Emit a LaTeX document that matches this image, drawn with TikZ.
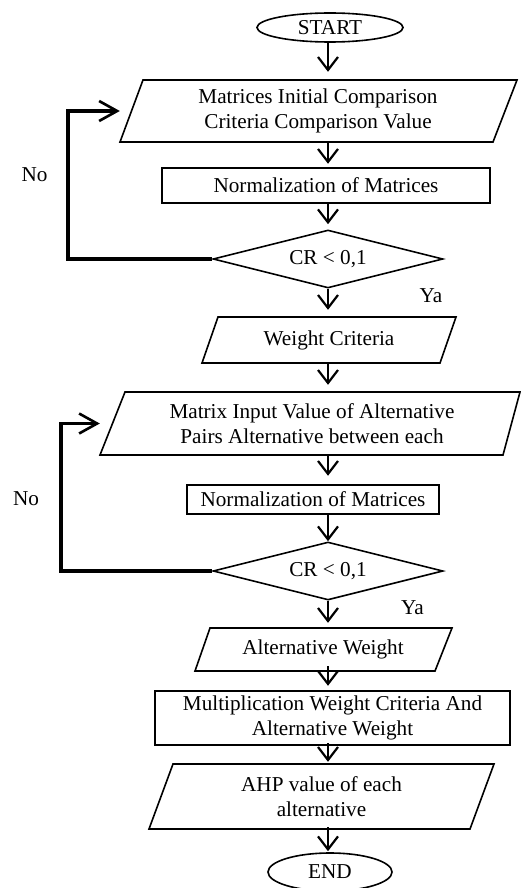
\documentclass[tikz,border=0pt]{standalone}
\usepackage{fontspec}
\setmainfont{Liberation Serif}
\usetikzlibrary{arrows.meta,shapes.geometric}
\begin{document}
\begin{tikzpicture}[x=1pt,y=-1pt,
  font=\fontsize{21.2}{24.5}\selectfont,
  box/.style={draw, line width=2.5pt, inner sep=0pt, align=center},
  thinbox/.style={draw, line width=1.6pt, inner sep=0pt, align=center},
  txt/.style={inner sep=0pt, align=center},
  para/.style={line width=1.6pt, line join=miter},
  dec/.style={draw, line width=1.6pt, diamond, aspect=3.97, inner sep=0pt, minimum width=230pt, minimum height=58pt},
  flow/.style={line width=2.2pt, -{Straight Barb[length=13pt,width=20pt,line width=2.2pt]}},
  loopline/.style={line width=3.5pt, line join=miter, -{Straight Barb[length=18pt,width=20pt,line width=2.6pt]}},
]
\useasboundingbox (0,0) rectangle (521,888);
\coordinate (ax) at (328,0);

% START
\node[thinbox, ellipse, minimum width=146pt, minimum height=29pt] (start) at (330,27.5) {START};

% parallelogram 1
\draw[para] (143,80) -- (517,80) -- (493,142) -- (120,142) -- cycle;
\node[txt, minimum width=374pt, minimum height=62pt] (p1) at (318,111) {Matrices Initial Comparison\\Criteria Comparison Value};

% rect 1
\node[box, minimum width=328pt, minimum height=35pt] (r1) at (326,185.5) {Normalization of Matrices};

% diamond 1
\node[dec] (d1) at (328,259) {CR < 0,1};

% parallelogram 2
\draw[para] (218,317) -- (456,317) -- (440,363) -- (202,363) -- cycle;
\node[txt, minimum width=238pt, minimum height=46pt] (p2) at (329,340) {Weight Criteria};

% parallelogram 3
\draw[para] (125,392) -- (520,392) -- (503,455) -- (100,455) -- cycle;
\node[txt, minimum width=400pt, minimum height=63pt] (p3) at (312,423.5) {Matrix Input Value of Alternative\\Pairs Alternative between each};

% rect 2
\node[box, minimum width=252pt, minimum height=29pt] (r2) at (313,499.5) {Normalization of Matrices};

% diamond 2
\node[dec] (d2) at (328,571) {CR < 0,1};

% parallelogram 4
\draw[para] (210,628) -- (452,628) -- (435,671) -- (195,671) -- cycle;
\node[txt, minimum width=242pt, minimum height=43pt] (p4) at (323,649.5) {Alternative Weight};

% rect 3
\node[box, minimum width=355pt, minimum height=54pt] (r3) at (332.5,718) {Multiplication Weight Criteria And\\Alternative Weight};

% parallelogram 5
\draw[para] (173,764) -- (494,764) -- (470,829) -- (149,829) -- cycle;
\node[txt, minimum width=321pt, minimum height=65pt] (p5) at (321.5,796.5) {AHP value of each\\alternative};

% END
\node[thinbox, ellipse, minimum width=124pt, minimum height=38pt] (end) at (330,872) {END};

% labels
\node[txt] (no1) at (34.5,175) {No};
\node[txt] (ya1) at (431,296) {Ya};
\node[txt] (no2) at (26,499) {No};
\node[txt] (ya2) at (412.5,608) {Ya};

% flow arrows
\draw[flow, shorten >=8pt] (start.south -| ax) -- (p1.north -| ax);
\draw[flow, shorten >=3pt] (p1.south -| ax) -- (r1.north -| ax);
\draw[flow, shorten >=5pt] (r1.south -| ax) -- (d1.north -| ax);
\draw[flow, shorten >=7pt] (d1.south -| ax) -- (p2.north -| ax);
\draw[flow, shorten >=7pt] (p2.south -| ax) -- (p3.north -| ax);
\draw[flow, shorten >=8pt] (p3.south -| ax) -- (r2.north -| ax);
\draw[flow, shorten >=0pt] (r2.south -| ax) -- (d2.north -| ax);
\draw[flow, shorten >=5pt] (d2.south -| ax) -- (p4.north -| ax);
\draw[flow, shorten >=4pt, shorten <=-5pt] (p4.south -| ax) -- (r3.north -| ax);
\draw[flow, shorten >=2pt, shorten <=-3pt] (r3.south -| ax) -- (p5.north -| ax);
\draw[flow, shorten >=1pt, shorten <=-2pt] (p5.south -| ax) -- (end.north -| ax);

% feedback loops
\draw[loopline, shorten >=11pt] (d1.west) -- ++(-144,0) |- (p1.west);
\draw[loopline, shorten >=12pt] (d2.west) -- ++(-151,0) |- (p3.west);
\end{tikzpicture}
\end{document}
